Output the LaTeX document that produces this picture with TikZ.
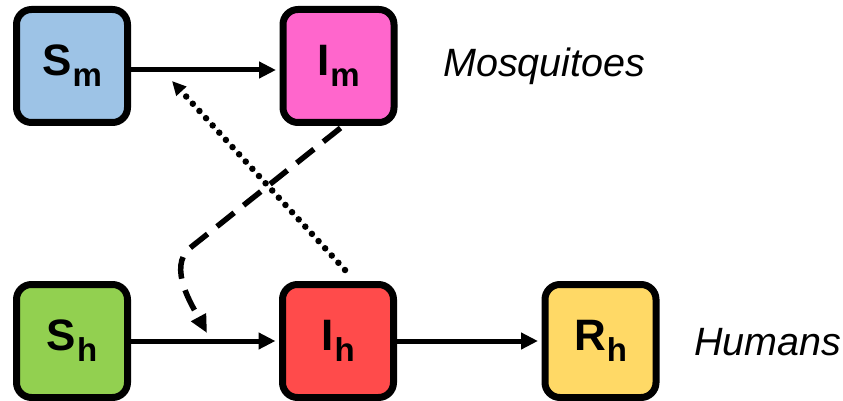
\documentclass[tikz,border=0pt]{standalone}
\usepackage{fontspec}
\setmainfont{Liberation Sans}
\usetikzlibrary{arrows.meta}

\definecolor{smfill}{HTML}{9DC3E6}
\definecolor{imfill}{HTML}{FF66CC}
\definecolor{shfill}{HTML}{92D050}
\definecolor{ihfill}{HTML}{FF4B4B}
\definecolor{rhfill}{HTML}{FFD966}

% compartment label: big bold letter with a bold subscript
\newcommand\complabel[2]{#1\kern1pt\raisebox{-11pt}{\fontsize{33}{33}\selectfont\bfseries #2}}

\begin{document}
\begin{tikzpicture}[x=1pt,y=-1pt,
  comp/.style={draw=black, line width=7pt, rounded corners=15pt,
    minimum width=111pt, minimum height=113pt, inner sep=0pt,
    font=\fontsize{44}{44}\selectfont\bfseries},
  flow/.style={line width=5pt, shorten >=3.5pt,
    -{Triangle[length=17pt,width=16pt]}},
  infect/.style={line width=5.5pt, dash pattern=on 22pt off 12pt,
    -{Triangle[length=18pt,width=16pt]}},
  bite/.style={line width=6.5pt, line cap=round,
    dash pattern=on 0pt off 9.8pt,
    -{Triangle[length=14pt,width=13pt]}},
  group/.style={anchor=base west, inner sep=0pt,
    font=\fontsize{39.5}{39.5}\selectfont\itshape}
]
\useasboundingbox (0,0) rectangle (843,401);

% mosquito compartments
\node[comp, fill=smfill] (Sm) at (72,66)    {\complabel{S}{m}};
\node[comp, fill=imfill] (Im) at (338.5,66) {\complabel{I}{m}};

% human compartments
\node[comp, fill=shfill] (Sh) at (72,341)    {\complabel{S}{h}};
\node[comp, fill=ihfill] (Ih) at (338,341)   {\complabel{I}{h}};
\node[comp, fill=rhfill] (Rh) at (600.5,341) {\complabel{R}{h}};

% group labels
\node[group] (mosq) at (443,77)  {Mosquitoes};
\node[group] (hum)  at (694,355) {Humans};

% transitions
\draw[flow] ([yshift=-4pt]Sm.east) -- ([yshift=-4pt]Im.west);
\draw[flow] (Sh.east) -- (Ih.west);
\draw[flow] (Ih.east) -- (Rh.west);

% cross-infection
\coordinate (dashend) at (207,333);
\coordinate (dotend)  at (172,81);
\draw[infect] ([xshift=2pt,yshift=-2pt]Im.south) -- (190,248)
  .. controls (167,267) and (193,307) .. (dashend);
\draw[bite] ([xshift=7pt,yshift=11pt]Ih.north) -- (dotend);
\end{tikzpicture}
\end{document}
